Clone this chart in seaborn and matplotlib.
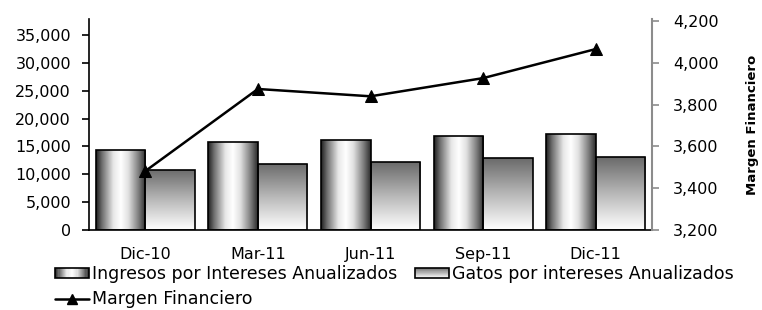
import numpy as np
import pandas as pd
import seaborn as sns
import matplotlib.pyplot as plt
from matplotlib.colors import LinearSegmentedColormap
from matplotlib.patches import Rectangle
from matplotlib.lines import Line2D
from matplotlib.legend_handler import HandlerBase
from matplotlib.ticker import FuncFormatter

categorias = ['Dic-10', 'Mar-11', 'Jun-11', 'Sep-11', 'Dic-11']
ingresos = [14300, 15800, 16150, 16850, 17250]
gastos = [10800, 11850, 12200, 12900, 13100]
margen = [3482, 3875, 3840, 3927, 4066]
serie_ing = 'Ingresos por Intereses Anualizados'
serie_gas = 'Gatos por intereses Anualizados'
serie_mar = 'Margen Financiero'

sns.set_style('white')
plt.rcParams['font.family'] = ['DejaVu Sans']
plt.rcParams['text.color'] = 'black'
plt.rcParams['xtick.color'] = 'black'
plt.rcParams['ytick.color'] = 'black'
plt.rcParams['axes.labelcolor'] = 'black'

# gradientes tipo cilindro / vertical
cmap_ing = LinearSegmentedColormap.from_list('ing', [
    (0.0, '#1e1e1e'), (0.12, '#6e6e6e'), (0.35, '#e8e8e8'), (0.5, '#ffffff'),
    (0.65, '#e0e0e0'), (0.85, '#808080'), (1.0, '#2a2a2a')])
cmap_gas = LinearSegmentedColormap.from_list('gas', [
    (0.0, '#ffffff'), (0.08, '#f4f4f4'), (0.5, '#b8b8b8'), (1.0, '#6a6a6a')])


class GradientHandler(HandlerBase):
    def __init__(self, cmap, horizontal):
        super().__init__()
        self.cmap = cmap
        self.horizontal = horizontal

    def create_artists(self, legend, orig_handle, xdescent, ydescent, width, height, fontsize, trans):
        n = 30
        arts = []
        for i in range(n):
            if self.horizontal:
                r = Rectangle((-xdescent + i * width / n, -ydescent), width / n, height,
                              fc=self.cmap((i + 0.5) / n), ec='none', transform=trans)
            else:
                r = Rectangle((-xdescent, -ydescent + i * height / n), width, height / n,
                              fc=self.cmap((i + 0.5) / n), ec='none', transform=trans)
            arts.append(r)
        arts.append(Rectangle((-xdescent, -ydescent), width, height, fc='none',
                              ec='black', lw=1.2, transform=trans))
        return arts


df = pd.DataFrame({
    'categoria': categorias * 2,
    'serie': [serie_ing] * len(categorias) + [serie_gas] * len(categorias),
    'valor': ingresos + gastos,
})

fig = plt.figure(figsize=(7.62, 3.10), dpi=100)
ax = fig.add_axes([89 / 762, 1 - 230 / 310, (652 - 89) / 762, (230 - 19) / 310])

sns.barplot(data=df, x='categoria', y='valor', hue='serie', hue_order=[serie_ing, serie_gas],
            palette=['#999999', '#bbbbbb'], edgecolor='black', linewidth=1.2,
            width=0.88, gap=0, legend=False, ax=ax)

# pintar los gradientes dentro de cada barra
for cont, cmap, horiz in zip(ax.containers, [cmap_ing, cmap_gas], [True, False]):
    for rect in cont:
        x0, y0 = rect.get_x(), rect.get_y()
        w, h = rect.get_width(), rect.get_height()
        grad = np.linspace(0, 1, 256)
        img = grad.reshape(1, -1) if horiz else grad.reshape(-1, 1)
        im = ax.imshow(img, extent=[x0, x0 + w, y0, y0 + h], origin='lower',
                       aspect='auto', cmap=cmap, zorder=0.5)
        im.set_clip_path(rect)
        rect.set_facecolor('none')
        rect.set_zorder(1)

ax.set_xlim(-0.5, 4.5)
ax.set_ylim(0, 37870)
ax.set_yticks(np.arange(0, 35001, 5000))
ax.yaxis.set_major_formatter(FuncFormatter(lambda v, p: f'{v:,.0f}'))
ax.set_xlabel('')
ax.set_ylabel('')
ax.set_xticks(np.arange(-0.5, 5, 1), minor=True)
ax.tick_params(axis='x', which='major', length=0, pad=12, labelsize=11.5)
ax.tick_params(axis='x', which='minor', length=5, width=1.2, direction='out', color='black')
ax.tick_params(axis='y', length=5, width=1.2, direction='out', color='black', pad=8, labelsize=11.5)
for s in ['top', 'right']:
    ax.spines[s].set_visible(False)
for s in ['left', 'bottom']:
    ax.spines[s].set_color('black')
    ax.spines[s].set_linewidth(1.2)

ax2 = ax.twinx()
posiciones = np.arange(len(categorias))
sns.lineplot(x=posiciones, y=margen, ax=ax2, color='black', marker='^', markersize=8,
             markeredgecolor='black', linewidth=1.8, legend=False)
ax2.set_ylim(3200, 4210)
ax2.set_yticks(np.arange(3200, 4201, 200))
ax2.yaxis.set_major_formatter(FuncFormatter(lambda v, p: f'{v:,.0f}'))
ax2.set_ylabel(serie_mar, fontsize=9.5, fontweight='bold', labelpad=20)
ax2.tick_params(axis='y', length=5, width=1.2, direction='out', color='#8c8c8c', pad=10, labelsize=11.5)
for s in ['top', 'left', 'bottom']:
    ax2.spines[s].set_visible(False)
ax2.spines['right'].set_color('#8c8c8c')
ax2.spines['right'].set_linewidth(1.5)
ax2.set_xlim(-0.5, 4.5)

h_ing = Rectangle((0, 0), 1, 1)
h_gas = Rectangle((0, 0), 1, 1, fc='gray')
h_mar = Line2D([], [], color='black', marker='^', markersize=7, linewidth=1.8)
fig.legend([h_ing, h_mar, h_gas], [serie_ing, serie_mar, serie_gas],
           handler_map={h_ing: GradientHandler(cmap_ing, True),
                        h_gas: GradientHandler(cmap_gas, False)},
           ncol=2, loc='upper left', bbox_to_anchor=(55 / 762, 1 - 265 / 310),
           frameon=False, fontsize=12.5, borderpad=0, borderaxespad=0,
           handlelength=1.95, handleheight=0.55, handletextpad=0.2,
           columnspacing=1.0, labelspacing=0.42)

fig.savefig('out.png', dpi=100)
